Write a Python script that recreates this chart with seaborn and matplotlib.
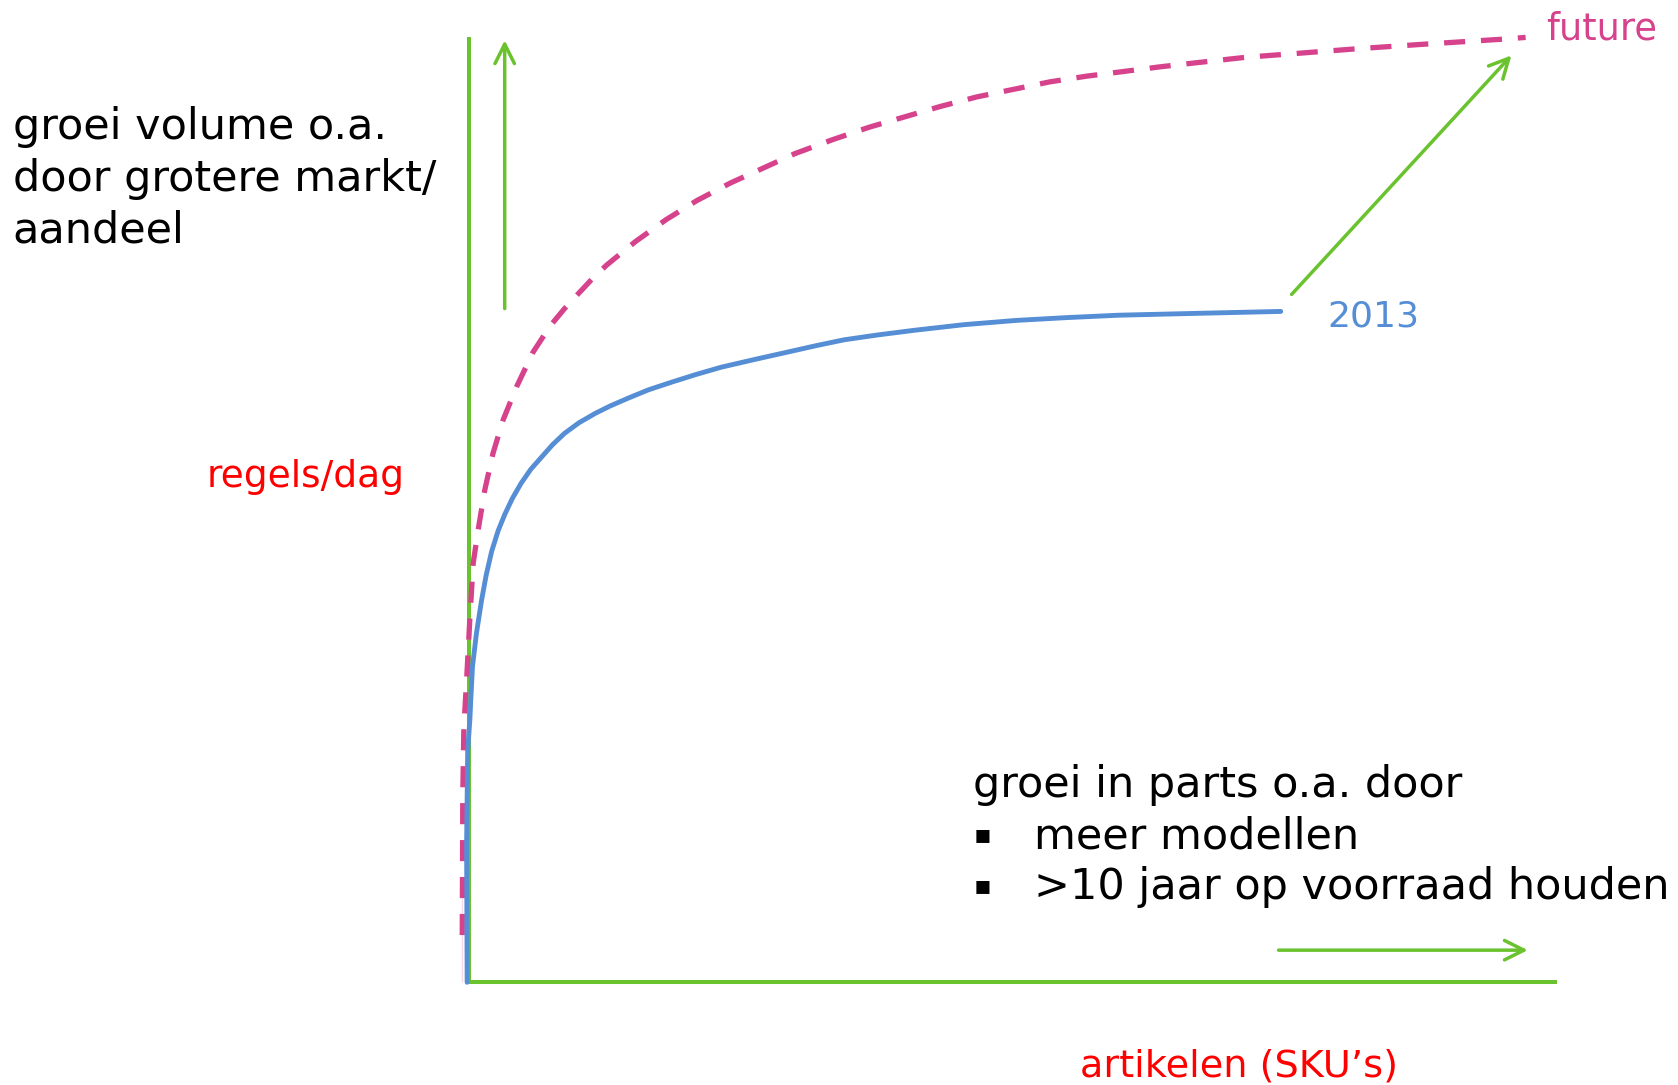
import matplotlib
matplotlib.use("Agg")
import matplotlib.pyplot as plt
import numpy as np
import pandas as pd
import seaborn as sns

# curves (x: artikelen 0-100, y: regels/dag 0-100)
x_2013 = [-0.15, -0.2, -0.2, -0.1, 0.1, 0.18, 0.34, 0.7, 1.17, 1.6, 2.1,
          2.7, 3.3, 4.0, 4.8, 5.7, 6.7, 7.7, 8.8, 10.1, 11.6, 13.0, 14.6,
          16.5, 18.6, 20.8, 23.2, 26.2, 29.3, 32.0, 34.5, 37.5, 40.9, 45.5,
          50.3, 55.0, 59.7, 67.0, 74.6]
y_2013 = [0.0, 10.0, 19.3, 24.5, 27.8, 29.8, 33.4, 36.9, 40.4, 43.1, 45.6,
          47.8, 49.5, 51.2, 52.8, 54.3, 55.6, 56.9, 58.1, 59.2, 60.2, 61.0, 61.8,
          62.7, 63.5, 64.3, 65.1, 65.9, 66.7, 67.4, 68.0, 68.5, 69.0, 69.6,
          70.05, 70.35, 70.6, 70.8, 71.0]

x_future = [-0.6, -0.6, -0.55, -0.45, -0.2, 0.1, 0.4, 0.85, 1.47, 2.23, 3.15,
            4.38, 5.91, 7.5, 8.8, 10.0, 11.3, 12.66, 15.32, 18.11, 20.98,
            24.05, 27.11, 29.96, 33.48, 36.8, 40.07, 43.35, 46.66, 50.03,
            53.4, 56.77, 60.2, 63.6, 66.7, 71.4, 76.0, 81.6, 88.0, 94.8, 97.1]
y_future = [0.0, 10.0, 20.0, 27.0, 32.0, 38.5, 44.3, 47.8, 52.1, 56.0, 59.5,
            63.0, 66.7, 69.5, 71.3, 72.8, 74.4, 75.9, 78.4, 80.7, 82.75,
            84.6, 86.2, 87.7, 89.2, 90.5, 91.6, 92.7, 93.7, 94.5,
            95.3, 95.9, 96.4, 96.9, 97.3, 97.9, 98.3, 98.8, 99.3, 99.8, 100.0]

left_lines = ["groei volume o.a.", "door grotere markt/", "aandeel"]
bottom_head = "groei in parts o.a. door"
bottom_items = ["meer modellen", ">10 jaar op voorraad houden"]

GREEN = "#6ac32e"
BLUE = "#558ed5"
PINK = "#d6428c"
RED = "#ff0000"

sns.set_theme(style="white")
plt.rcParams["font.family"] = ["DejaVu Sans"]

df_2013 = pd.DataFrame({"x": x_2013, "y": y_2013})
df_future = pd.DataFrame({"x": x_future, "y": y_future})

fig = plt.figure(figsize=(16.78, 10.85), dpi=100)
ax = fig.add_axes([0, 0, 1, 1])
ax.set_xlim(-43.07, 111.1)
ax.set_ylim(-10.87, 103.96)
ax.axis("off")

# axes drawn as green lines
ax.plot([0, 0], [0, 100], color=GREEN, lw=2.9, solid_capstyle="butt")
ax.plot([0, 100], [0, 0], color=GREEN, lw=2.9, solid_capstyle="butt")

sns.lineplot(data=df_future, x="x", y="y", sort=False, ax=ax, color=PINK,
             lw=3.8, dashes=False, linestyle=(0, (4.0, 3.0)))
sns.lineplot(data=df_2013, x="x", y="y", sort=False, ax=ax, color=BLUE, lw=3.5)

arrow = dict(arrowstyle="->,head_length=1.0,head_width=0.5", color=GREEN,
             lw=2.5, mutation_scale=14, shrinkA=0, shrinkB=0)
ax.annotate("", xy=(3.3, 99.7), xytext=(3.3, 71.3), arrowprops=arrow)
ax.annotate("", xy=(97.3, 3.4), xytext=(74.4, 3.4), arrowprops=arrow)
ax.annotate("", xy=(95.8, 98.1), xytext=(75.6, 72.8), arrowprops=arrow)

ax.text(99.0, 99.8, "future", color=PINK, fontsize=26.5, va="baseline")
ax.text(78.9, 69.4, "2013", color=BLUE, fontsize=26, va="baseline")
ax.text(-5.9, 52.4, "regels/dag", color=RED, fontsize=27, ha="right", va="baseline")
ax.text(56.2, -10.0, "artikelen (SKU\u2019s)", color=RED, fontsize=27.5, va="baseline")

for yy, line in zip([89.2, 83.7, 78.3], left_lines):
    ax.text(-41.9, yy, line, color="black", fontsize=31, va="baseline")

ax.text(46.3, 19.6, bottom_head, color="black", fontsize=31, va="baseline")
for yy, item in zip([14.2, 8.8], bottom_items):
    ax.text(46.4, yy + 0.6, "\u25aa", color="black", fontsize=19, va="baseline")
    ax.text(51.9, yy, item, color="black", fontsize=31, va="baseline")

fig.savefig("out.png", dpi=100)
